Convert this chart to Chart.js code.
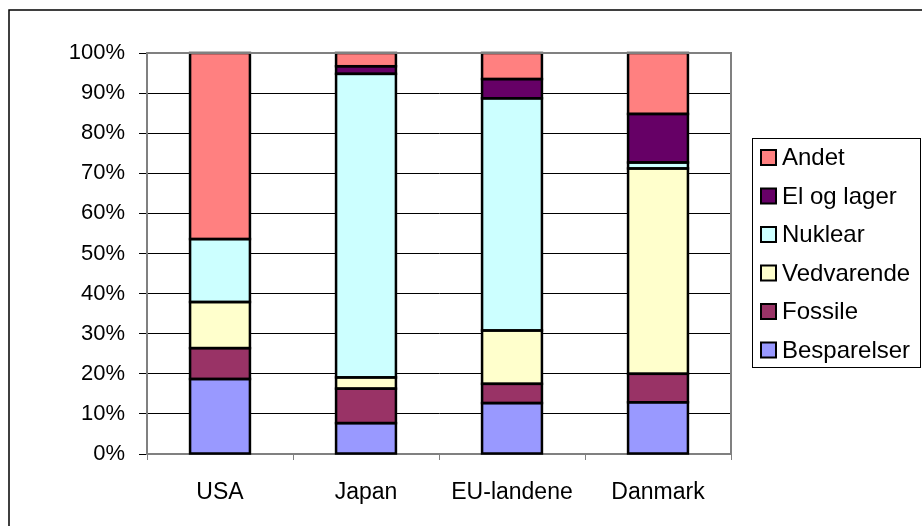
<!DOCTYPE html>
<html>
<head>
<meta charset="utf-8">
<script src="https://cdn.jsdelivr.net/npm/chart.js@4.4.1/dist/chart.umd.min.js"></script>
<style>
  html, body { margin: 0; padding: 0; background: #fff; }
  #wrap { width: 922px; height: 526px; }
</style>
</head>
<body>
<div id="wrap"><canvas id="graf" width="922" height="526"></canvas></div>
<script>
// Kategorier og andele (procent af hver søjle)
const lande = ["USA", "Japan", "EU-landene", "Danmark"];
const besparelser = [18.7, 7.7, 12.7, 12.9];
const fossile = [7.7, 8.6, 4.8, 7.1];
const vedvarende = [11.5, 2.8, 13.3, 51.2];
const nuklear = [15.7, 75.7, 57.9, 1.5];
const elOgLager = [0, 1.9, 4.8, 12.1];
const andet = [46.4, 3.3, 6.5, 15.2];
const yTicks = [0, 10, 20, 30, 40, 50, 60, 70, 80, 90, 100];

const FONT = "'Liberation Sans', Arial, sans-serif";

function serie(label, data, farve) {
  return {
    label: label,
    data: data,
    backgroundColor: farve,
    borderWidth: 0,
    inflateAmount: 0,
    barPercentage: 0.41,
    categoryPercentage: 1
  };
}

// Sort kant om hvert segment (ens tykkelse overalt)
const kantPlugin = {
  id: "kant",
  afterDatasetsDraw(chart) {
    const ctx = chart.ctx;
    ctx.save();
    ctx.strokeStyle = "#000";
    ctx.lineWidth = 2.5;
    chart.data.datasets.forEach((d, i) => {
      chart.getDatasetMeta(i).data.forEach(el => {
        const h = el.base - el.y;
        if (Math.abs(h) < 0.01) return;
        ctx.strokeRect(el.x - el.width / 2, el.y, el.width, h);
      });
    });
    ctx.restore();
  }
};

// Ramme om hele figuren + plotområdets grå kant
const rammePlugin = {
  id: "ramme",
  afterDraw(chart) {
    const ctx = chart.ctx;
    const a = chart.chartArea;
    ctx.save();
    ctx.strokeStyle = "#808080";
    ctx.lineWidth = 2;
    ctx.beginPath();
    ctx.moveTo(a.left, a.top);
    ctx.lineTo(a.right, a.top);
    ctx.lineTo(a.right, a.bottom);
    ctx.stroke();
    ctx.strokeStyle = "#000";
    ctx.lineWidth = 1.5;
    ctx.strokeRect(9, 10, 1000, 1000);
    ctx.restore();
  }
};

// Egen signaturforklaring i en boks til højre
const signaturPlugin = {
  id: "signatur",
  afterDraw(chart) {
    const ctx = chart.ctx;
    const ds = chart.data.datasets.slice().reverse();
    ctx.save();
    ctx.strokeStyle = "#000";
    ctx.lineWidth = 1;
    ctx.strokeRect(752.5, 138.5, 168, 229);
    ctx.font = "24px " + FONT;
    ctx.textBaseline = "middle";
    ds.forEach((d, i) => {
      const y = 157.5 + i * 38.5;
      ctx.fillStyle = d.backgroundColor;
      ctx.fillRect(761, y - 7.5, 15, 15);
      ctx.lineWidth = 2;
      ctx.strokeRect(761, y - 7.5, 15, 15);
      ctx.fillStyle = "#000";
      ctx.fillText(d.label, 782, y + 1);
    });
    ctx.restore();
  }
};

const ctx = document.getElementById("graf").getContext("2d");
new Chart(ctx, {
  type: "bar",
  data: {
    labels: lande,
    datasets: [
      serie("Besparelser", besparelser, "#9999FF"),
      serie("Fossile", fossile, "#993366"),
      serie("Vedvarende", vedvarende, "#FFFFCC"),
      serie("Nuklear", nuklear, "#CCFFFF"),
      serie("El og lager", elOgLager, "#660066"),
      serie("Andet", andet, "#FF8080")
    ]
  },
  options: {
    responsive: false,
    animation: false,
    layout: { padding: { left: 0, top: 53, right: 191, bottom: 0 } },
    plugins: {
      legend: { display: false },
      tooltip: { enabled: false }
    },
    scales: {
      x: {
        stacked: true,
        afterFit(scale) { scale.height = 72; },
        grid: { drawOnChartArea: false, drawTicks: true, tickLength: 6, tickColor: "#808080", offset: true },
        border: { color: "#808080", width: 2 },
        ticks: { color: "#000", padding: 19, font: { family: FONT, size: 23 } }
      },
      y: {
        stacked: true,
        min: 0,
        max: 100,
        afterFit(scale) { scale.width = 147; },
        afterBuildTicks(scale) { scale.ticks = yTicks.map(v => ({ value: v })); },
        grid: { color: "#000", lineWidth: 1, tickLength: 8, tickColor: "#000" },
        border: { color: "#808080", width: 2 },
        ticks: {
          color: "#000",
          padding: 14,
          font: { family: FONT, size: 22 },
          callback: v => v + "%"
        }
      }
    }
  },
  plugins: [kantPlugin, rammePlugin, signaturPlugin]
});
</script>
</body>
</html>
